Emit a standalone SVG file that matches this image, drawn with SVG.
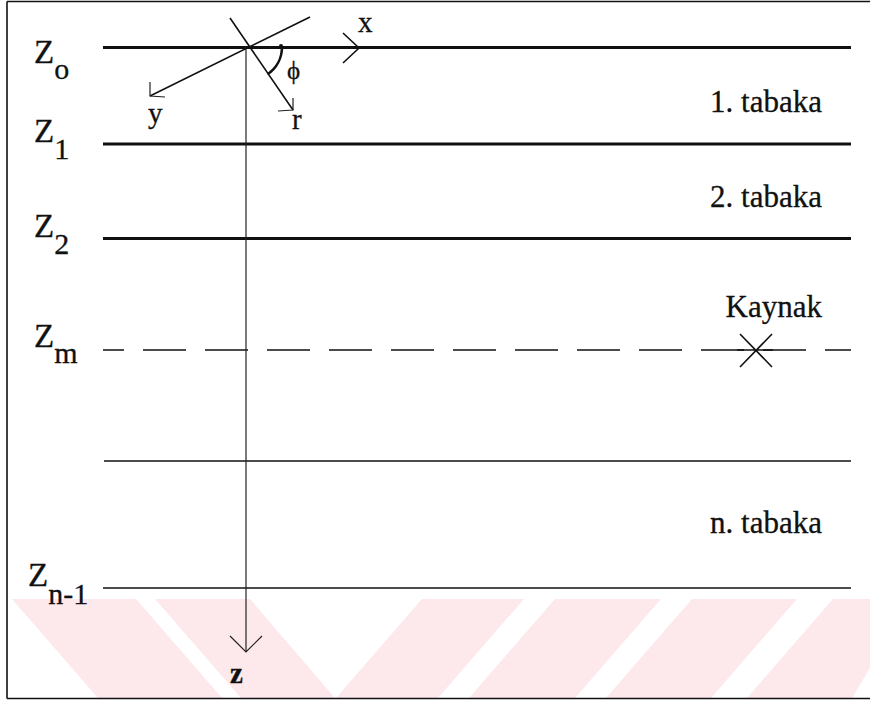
<svg xmlns="http://www.w3.org/2000/svg" width="870" height="703" viewBox="0 0 870 703">
<style>
text{font-family:"Liberation Serif","Times New Roman",serif;fill:#111;stroke:#111;stroke-width:0.3}
.zl{font-size:33px}
.sub{font-size:30px}
.sm{font-size:29px}
.lbl{font-size:31px}
.thick{stroke:#111;stroke-width:3;fill:none}
.thin{stroke:#111;stroke-width:1.6;fill:none}
.hair{stroke:#222;stroke-width:1.2;fill:none}
.wm{fill:#fde8ec}
</style>
<rect x="0" y="0" width="870" height="703" fill="#fff"/>
<g id="watermark">
<polygon class="wm" points="12,599 136,599 222,698 98,698"/>
<polygon class="wm" points="155,599 250,599 335,698 241,698"/>
<polygon class="wm" points="422,599 524,599 438,698 336,698"/>
<polygon class="wm" points="555,599 661,599 575,698 469,698"/>
<polygon class="wm" points="692,599 797,599 711,698 606,698"/>
<polygon class="wm" points="833,599 870,599 870,668 852,698 747,698"/>
</g>
<g id="frame">
<path class="thin" d="M7,1.5 H870 M7,1.5 V698.5 M7,698.5 H870"/>
</g>
<g id="layers">
<line id="z0-line" class="thick" x1="103" y1="47.5" x2="851" y2="47.5"/>
<line id="z1-line" class="thick" x1="103" y1="144" x2="851" y2="144"/>
<line id="z2-line" class="thick" x1="103" y1="238.5" x2="851" y2="238.5"/>
<line id="zm-line" class="thin" x1="103" y1="350" x2="851" y2="350" stroke-dasharray="43 19" stroke-dashoffset="22"/>
<line id="mid-line" class="thin" x1="104" y1="461" x2="851" y2="461"/>
<line id="zn1-line" class="thin" x1="103" y1="588" x2="851" y2="588"/>
</g>
<g id="connectors">
<line id="z-axis" class="hair" x1="246" y1="47" x2="246" y2="652"/>
<path id="z-arrow" class="hair" d="M230,636 L246,652 L262,636"/>
<line id="y-axis" class="thin" x1="310" y1="17" x2="150" y2="96"/>
<path id="y-arrow" class="hair" d="M150,82 L150,96 L165,97"/>
<line id="r-axis" class="thin" x1="230" y1="18" x2="293" y2="110"/>
<path id="r-arrow" class="hair" d="M293,98 L293,110 L278,111"/>
<path id="x-arrow" class="thin" d="M343,33 L359,48 L343,63"/>
<path id="phi-arc" d="M282,47 A33,33 0 0 1 267.6,74.2" stroke="#111" stroke-width="2.6" fill="none"/>
<circle cx="281" cy="46" r="2" fill="#111"/>
</g>
<g id="source">
<path class="thin" d="M740,334 L772,367 M772,334 L740,367 M737,350 H773"/>
</g>
<g id="labels">
<text class="zl" x="34" y="63">Z<tspan class="sub" dy="16">o</tspan></text>
<text class="zl" x="34" y="142">Z<tspan class="sub" dy="17">1</tspan></text>
<text class="zl" x="34" y="237">Z<tspan class="sub" dy="17">2</tspan></text>
<text class="zl" x="34" y="347">Z<tspan class="sub" dy="16">m</tspan></text>
<text class="zl" x="28" y="586">Z<tspan class="sub" dy="18">n-1</tspan></text>
<text class="sm" x="358" y="32">x</text>
<text x="287" y="79" font-size="25">ϕ</text>
<text class="sm" x="148" y="123">y</text>
<text class="sm" x="292" y="129">r</text>
<text class="sm" x="230" y="683" font-weight="bold">z</text>
<text class="lbl" x="822" y="112" text-anchor="end">1. tabaka</text>
<text class="lbl" x="822" y="207" text-anchor="end">2. tabaka</text>
<text class="lbl" x="822" y="317" text-anchor="end">Kaynak</text>
<text class="lbl" x="822" y="533" text-anchor="end">n. tabaka</text>
</g>
</svg>
